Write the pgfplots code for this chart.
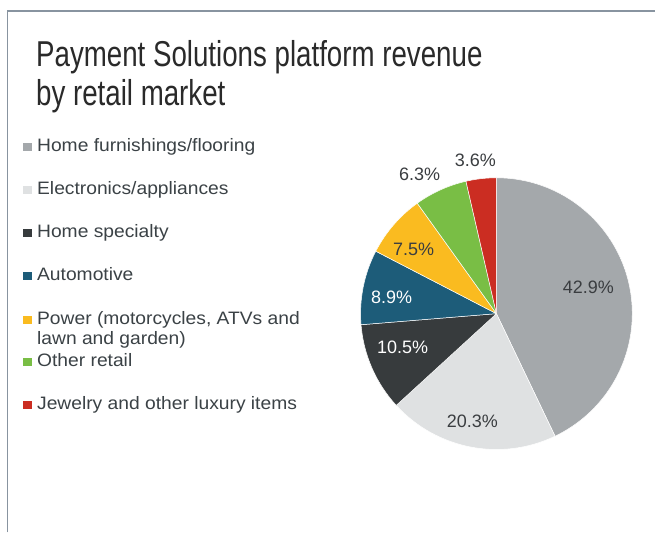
\documentclass[border=0pt]{standalone}
\usepackage{pgfplots}
\pgfplotsset{compat=1.18}
\usepackage{pgfplotstable}
\usepackage{fontspec}
\setmainfont{Liberation Sans}
\newfontfamily\titlefont[FakeStretch=0.77]{Liberation Sans}
\newfontfamily\legfont[FakeStretch=1.07]{Liberation Sans}

\definecolor{c0}{HTML}{A4A8AB}
\definecolor{c1}{HTML}{DFE1E2}
\definecolor{c2}{HTML}{373B3D}
\definecolor{c3}{HTML}{1D5C79}
\definecolor{c4}{HTML}{FABB20}
\definecolor{c5}{HTML}{79BE45}
\definecolor{c6}{HTML}{CB2D22}
\definecolor{darktxt}{HTML}{3A3D40}
\definecolor{titlecol}{HTML}{2A2A2A}
\definecolor{legtxt}{HTML}{3B4246}
\definecolor{framecol}{HTML}{8894A0}
\colorlet{t0}{darktxt}
\colorlet{t1}{darktxt}
\colorlet{t2}{white}
\colorlet{t3}{white}
\colorlet{t4}{darktxt}
\colorlet{t5}{darktxt}
\colorlet{t6}{darktxt}

% share (%), label position (x, y in picture units)
\pgfplotstableread{
value lx  ly
42.9  589 245
20.3  473 111
10.5  403 185
8.9   392 235
7.5   414 283
6.3   420 358
3.6   476 373
}\pietable

\def\curang{90}
\pgfplotsforeachungrouped \i in {0,...,6}{%
  \pgfplotstablegetelem{\i}{value}\of\pietable
  \expandafter\xdef\csname va\i\endcsname{\pgfplotsretval}%
  \pgfmathsetmacro\endang{\curang-3.6*\pgfplotsretval}%
  \expandafter\xdef\csname sa\i\endcsname{\curang}%
  \expandafter\xdef\csname ea\i\endcsname{\endang}%
  \xdef\curang{\endang}%
  \pgfplotstablegetelem{\i}{lx}\of\pietable
  \expandafter\xdef\csname lx\i\endcsname{\pgfplotsretval}%
  \pgfplotstablegetelem{\i}{ly}\of\pietable
  \expandafter\xdef\csname ly\i\endcsname{\pgfplotsretval}%
}

\begin{document}
\begin{tikzpicture}
\begin{axis}[
  scale only axis, width=656pt, height=533pt,
  xmin=0, xmax=656, ymin=0, ymax=533,
  axis lines=none, clip=false,
]
\fill[white] (axis cs:0,0) rectangle (axis cs:656,533);
\draw[framecol, line width=1.5pt] (axis cs:7.5,0) -- (axis cs:7.5,522) -- (axis cs:656,522);

% title
\node[anchor=base west, inner sep=0, text=titlecol, font=\titlefont\fontsize{36}{40}\selectfont]
  at (axis cs:36,466) {Payment Solutions platform revenue};
\node[anchor=base west, inner sep=0, text=titlecol, font=\titlefont\fontsize{36}{40}\selectfont]
  at (axis cs:36,427) {by retail market};

% pie
\pgfplotsinvokeforeach{0,...,6}{
  \fill[fill=c#1, draw=white, line width=0.5pt, line join=round]
    (axis cs:497,219) -- ++(\csname sa#1\endcsname:136pt)
    arc[start angle=\csname sa#1\endcsname, end angle=\csname ea#1\endcsname, radius=136pt] -- cycle;
}
\pgfplotsinvokeforeach{0,...,6}{
  \node[text=t#1, font=\fontsize{18}{21}\selectfont, inner sep=0]
    at (axis cs:\csname lx#1\endcsname,\csname ly#1\endcsname) {\csname va#1\endcsname\%};
}

% legend
\pgfplotsinvokeforeach{{0/381/Home furnishings/flooring},{1/338/Electronics/appliances},{2/295/Home specialty},{3/252/Automotive},{4/208/Power (motorcycles, ATVs and)},{5/166/Other retail},{6/123/Jewelry and other luxury items}}{}
\fill[c0] (axis cs:23,382) rectangle (axis cs:32,390);
\fill[c1] (axis cs:23,339) rectangle (axis cs:32,347);
\fill[c2] (axis cs:23,296) rectangle (axis cs:32,304);
\fill[c3] (axis cs:23,253) rectangle (axis cs:32,261);
\fill[c4] (axis cs:23,209) rectangle (axis cs:32,217);
\fill[c5] (axis cs:23,167) rectangle (axis cs:32,175);
\fill[c6] (axis cs:23,124) rectangle (axis cs:32,132);
\tikzset{leg/.style={anchor=base west, inner sep=0, text=legtxt, font=\legfont\fontsize{18}{21}\selectfont}}
\node[leg] at (axis cs:37,381) {Home furnishings/flooring};
\node[leg] at (axis cs:37,338) {Electronics/appliances};
\node[leg] at (axis cs:37,295) {Home specialty};
\node[leg] at (axis cs:37,252) {Automotive};
\node[leg] at (axis cs:37,208) {Power (motorcycles, ATVs and};
\node[leg] at (axis cs:37,188) {lawn and garden)};
\node[leg] at (axis cs:37,166) {Other retail};
\node[leg] at (axis cs:37,123) {Jewelry and other luxury items};
\end{axis}
\end{tikzpicture}
\end{document}
